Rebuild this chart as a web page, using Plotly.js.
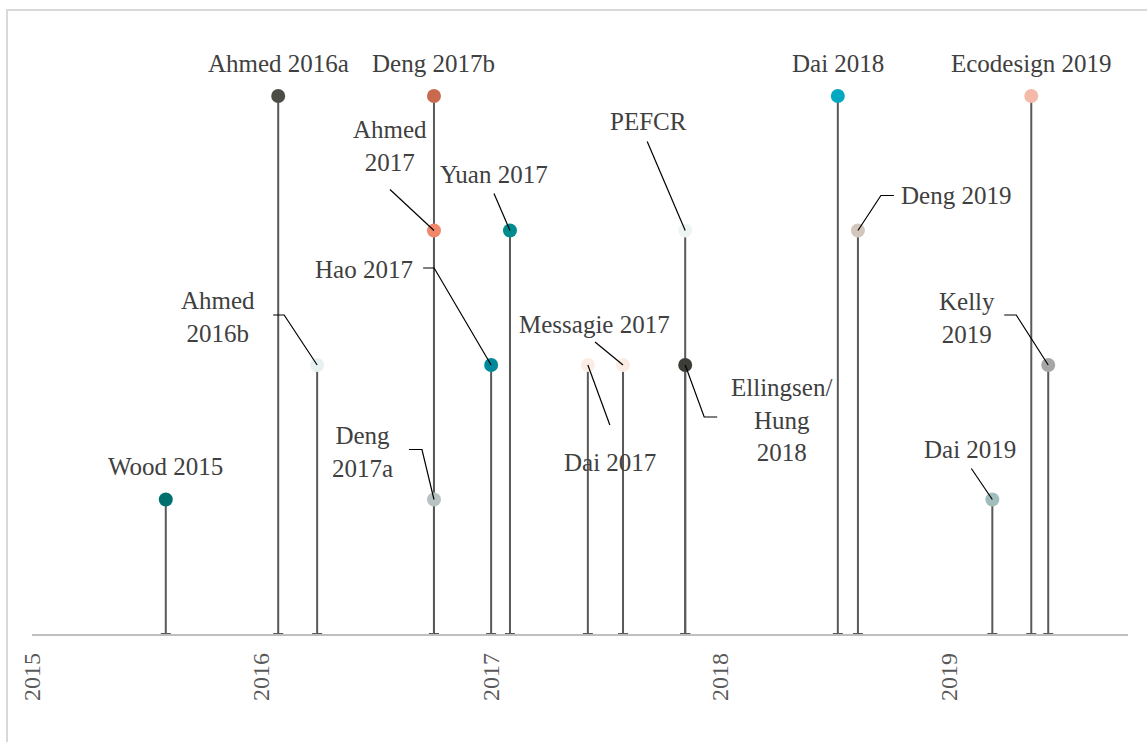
<!DOCTYPE html>
<html>
<head>
<meta charset="utf-8">
<script src="https://cdn.plot.ly/plotly-3.0.1.min.js"></script>
<style>
  html, body { margin: 0; padding: 0; background: #ffffff; }
  #chart { width: 1147px; height: 742px; }
  #frame { position: absolute; left: 6px; top: 9px; right: -4px; bottom: -4px;
           border-left: 2px solid #D9D9D9; border-top: 2px solid #D9D9D9; pointer-events: none; }
</style>
</head>
<body>
<div id="chart"></div>
<div id="frame"></div>
<script>
// ---- data ----
const labels = ['Wood 2015', 'Ahmed 2016a', 'Ahmed<br>2016b', 'Deng<br>2017a', 'Deng 2017b',
  'Ahmed<br>2017', 'Hao 2017', 'Yuan 2017', 'Dai 2017', 'Messagie 2017', 'PEFCR',
  'Ellingsen/<br>Hung<br>2018', 'Dai 2018', 'Deng 2019', 'Dai 2019', 'Ecodesign 2019', 'Kelly<br>2019'];
const dates = ['2015-08-02', '2016-01-28', '2016-03-30', '2016-10-02', '2016-10-02',
  '2016-10-02', '2017-01-01', '2017-01-31', '2017-06-04', '2017-07-30', '2017-11-06',
  '2017-11-06', '2018-07-07', '2018-08-08', '2019-03-10', '2019-05-11', '2019-06-07'];
const levels = [1, 4, 2, 1, 4, 3, 2, 3, 2, 2, 3, 2, 4, 3, 1, 4, 2];
const colors = ['#00706F', '#4D4D48', '#E6F0F0', '#B8C2C2', '#C86A50',
  '#F0866A', '#00899A', '#008B8E', '#FCEDE4', '#FCEDE4', '#EDF5F2',
  '#3D3D38', '#00A8C2', '#D3C6BC', '#A2BDBD', '#F5B9AA', '#A6A6A6'];
const tickYears = ['2015', '2016', '2017', '2018', '2019'];

// ---- label placement (pixel offsets from each point) ----
const labelShift = [[0, 33], [0, 32], [-99, 48], [-71, 47], [0, 32],
  [-44, 84], [-127, 95], [-16, 56], [22, -98], [-29, 40], [-37, 109],
  [96, -55], [0, 32], [98, 35], [-22, 50], [0, 32], [-81, 47]];
const leaders = [null, null, 'M-44,50L-33,50L0,0', 'M-25,50L-12,50L0,0', null,
  'M-44,41L0,0', 'M-68,97L-57,97L0,0', 'M-16,37L0,0', 'M0,0L22,-60', 'M-28,23L0,0', 'M-38,89L0,0',
  'M0,0L19,-52L32,-52', null, 'M36,35L23,35L0,0', 'M-21,31L0,0', null, 'M-44,50L-32,50L0,0'];

const trace = {
  type: 'scatter',
  mode: 'markers',
  x: dates,
  y: levels,
  marker: { size: 14, color: colors, line: { width: 0 } },
  error_y: {
    type: 'data', symmetric: false,
    array: levels.map(() => 0),
    arrayminus: levels,
    width: 5, thickness: 2, color: '#595959'
  },
  hoverinfo: 'skip'
};

const annotations = labels.map((t, i) => ({
  x: dates[i], y: levels[i], xref: 'x', yref: 'y',
  text: t, showarrow: false,
  xanchor: 'center', yanchor: 'middle', align: 'center',
  xshift: labelShift[i][0], yshift: labelShift[i][1],
  font: { family: 'Liberation Serif, serif', size: 25, color: '#404040' }
}));

const shapes = [];
leaders.forEach((p, i) => {
  if (!p) return;
  shapes.push({
    type: 'path', xref: 'x', yref: 'y',
    xsizemode: 'pixel', ysizemode: 'pixel',
    xanchor: dates[i], yanchor: levels[i],
    path: p, line: { color: '#000000', width: 1.2 }, layer: 'above'
  });
});

const layout = {
  width: 1147, height: 742,
  margin: { l: 32, r: 19, t: 15, b: 108 },
  paper_bgcolor: '#ffffff', plot_bgcolor: '#ffffff',
  showlegend: false,
  xaxis: {
    type: 'date',
    range: ['2015-01-01', '2019-10-12'],
    tickvals: tickYears.map(y => y + '-01-01'),
    ticktext: tickYears,
    tickangle: -90,
    ticks: '',
    ticklabelstandoff: 8,
    tickfont: { family: 'Liberation Serif, serif', size: 24, color: '#595959' },
    showgrid: false, zeroline: false,
    showline: true, linecolor: '#BFBFBF', linewidth: 1.5
  },
  yaxis: {
    range: [0, 4.602],
    visible: false, showgrid: false, zeroline: false
  },
  annotations: annotations,
  shapes: shapes
};

Plotly.newPlot('chart', [trace], layout, { displayModeBar: false, staticPlot: true });
</script>
</body>
</html>
